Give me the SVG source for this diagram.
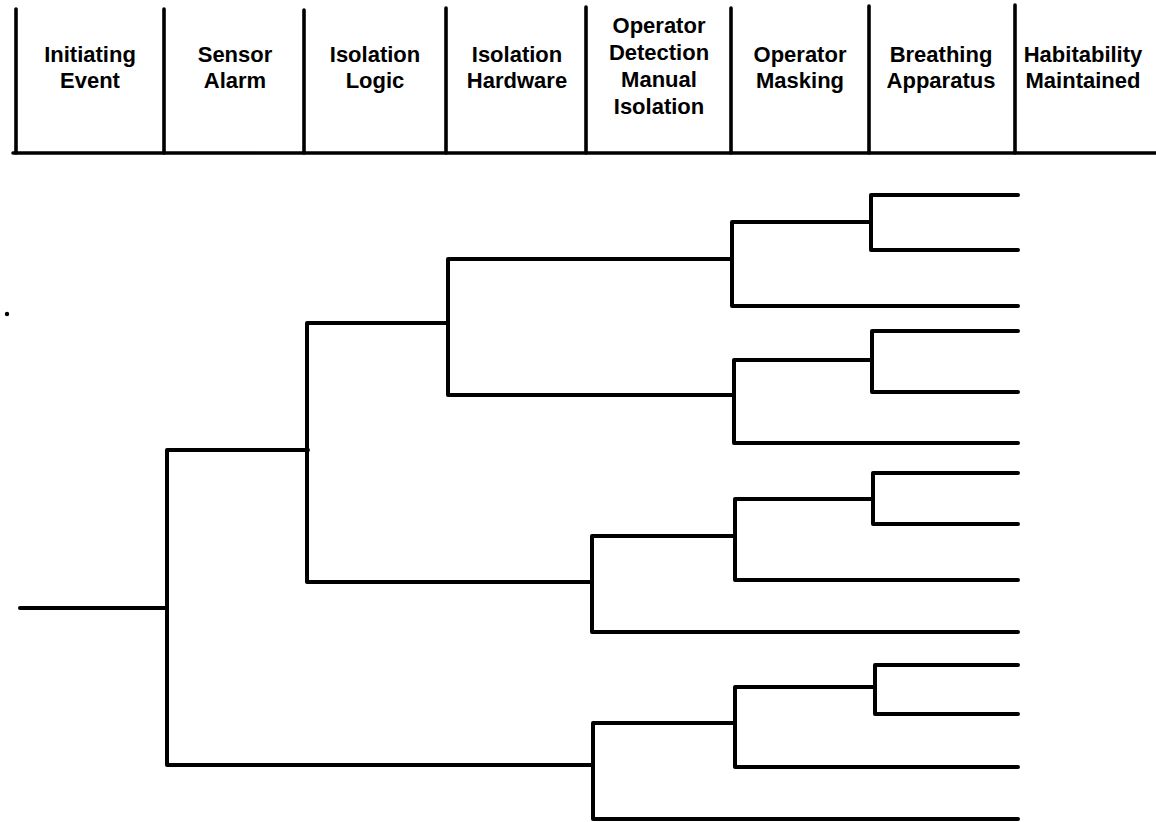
<svg xmlns="http://www.w3.org/2000/svg" width="1156" height="822" viewBox="0 0 1156 822">
  <style>
    .bg { fill: #ffffff; }
    .rule { stroke: #000; stroke-width: 3.6; fill: none; stroke-linecap: round; }
    .branch { stroke: #000; stroke-width: 4; fill: none; stroke-linejoin: round; stroke-linecap: round; }
    .head { font-family: "Liberation Sans", Arial, Helvetica, sans-serif; font-weight: bold; font-size: 22px; fill: #000; text-anchor: middle; }
  </style>
  <rect class="bg" x="0" y="0" width="1156" height="822"/>

  <!-- column heading frame -->
  <g id="header-frame">
    <line class="rule" x1="13" y1="153" x2="1156" y2="153"/>
  </g>

  <!-- column headings, one group per event column -->
  <g id="col-initiating-event">
    <line class="rule" x1="16" y1="9" x2="16" y2="153"/>
    <text class="head" x="90" y="62">Initiating</text>
    <text class="head" x="90" y="88">Event</text>
  </g>
  <g id="col-sensor-alarm">
    <line class="rule" x1="164" y1="9" x2="164" y2="153"/>
    <text class="head" x="235" y="62">Sensor</text>
    <text class="head" x="235" y="88">Alarm</text>
  </g>
  <g id="col-isolation-logic">
    <line class="rule" x1="304" y1="10" x2="304" y2="153"/>
    <text class="head" x="375" y="62">Isolation</text>
    <text class="head" x="375" y="88">Logic</text>
  </g>
  <g id="col-isolation-hardware">
    <line class="rule" x1="446" y1="8" x2="446" y2="153"/>
    <text class="head" x="517" y="62">Isolation</text>
    <text class="head" x="517" y="88">Hardware</text>
  </g>
  <g id="col-operator-detection">
    <line class="rule" x1="586" y1="7" x2="586" y2="153"/>
    <text class="head" x="659" y="33">Operator</text>
    <text class="head" x="659" y="60">Detection</text>
    <text class="head" x="659" y="87">Manual</text>
    <text class="head" x="659" y="114">Isolation</text>
  </g>
  <g id="col-operator-masking">
    <line class="rule" x1="731" y1="8" x2="731" y2="153"/>
    <text class="head" x="800" y="62">Operator</text>
    <text class="head" x="800" y="88">Masking</text>
  </g>
  <g id="col-breathing-apparatus">
    <line class="rule" x1="869" y1="6" x2="869" y2="153"/>
    <text class="head" x="941" y="62">Breathing</text>
    <text class="head" x="941" y="88">Apparatus</text>
  </g>
  <g id="col-habitability">
    <line class="rule" x1="1015" y1="5" x2="1015" y2="153"/>
    <text class="head" x="1083" y="62">Habitability</text>
    <text class="head" x="1083" y="88">Maintained</text>
  </g>

  <!-- stray mark at left margin -->
  <g id="margin-dot">
    <circle cx="7" cy="314" r="2.2" fill="#000"/>
  </g>

  <!-- event tree branches: each path is one split (up = success, down = failure) -->
  <g id="connectors">
    <path class="branch" d="M20,608 H167"/>
    <path class="branch" d="M308,450 H167 V765 H593"/>
    <path class="branch" d="M448,323 H307 V582 H592"/>
    <path class="branch" d="M732,259 H448 V395 H734"/>
    <path class="branch" d="M871,222 H732 V306 H1018"/>
    <path class="branch" d="M1018,195 H871 V250 H1018"/>
    <path class="branch" d="M872,360 H734 V443 H1018"/>
    <path class="branch" d="M1018,331 H872 V392 H1018"/>
    <path class="branch" d="M735,536 H592 V632 H1018"/>
    <path class="branch" d="M873,499 H735 V580 H1018"/>
    <path class="branch" d="M1018,473 H873 V524 H1018"/>
    <path class="branch" d="M735,723 H593 V819 H1018"/>
    <path class="branch" d="M875,687 H735 V767 H1018"/>
    <path class="branch" d="M1018,665 H875 V714 H1018"/>
  </g>
</svg>
